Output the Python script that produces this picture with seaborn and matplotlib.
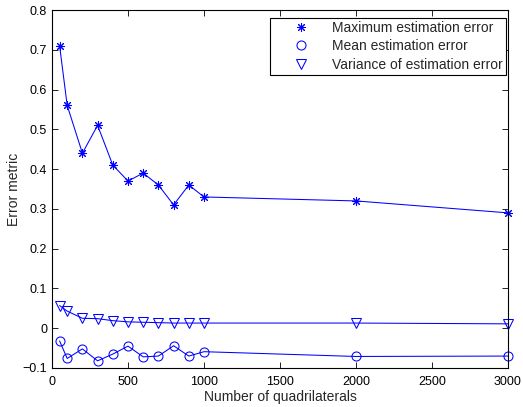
import matplotlib
matplotlib.use("Agg")
import matplotlib.pyplot as plt
from matplotlib.lines import Line2D
import seaborn as sns
import pandas as pd

# Number of quadrilaterals used in each experiment
n_quads = [50, 100, 200, 300, 400, 500, 600, 700, 800, 900, 1000, 2000, 3000]

# Error statistics for each experiment
max_err = [0.71, 0.56, 0.44, 0.51, 0.41, 0.37, 0.39, 0.36, 0.31, 0.36, 0.33, 0.32, 0.29]
mean_err = [-0.032, -0.076, -0.052, -0.082, -0.065, -0.045, -0.072, -0.070, -0.044,
            -0.070, -0.059, -0.071, -0.070]
var_err = [0.057, 0.043, 0.025, 0.024, 0.019, 0.016, 0.015, 0.014, 0.013, 0.013,
           0.013, 0.013, 0.011]

labels = ["Maximum estimation error", "Mean estimation error",
          "Variance of estimation error"]
x_ticks = [0, 500, 1000, 1500, 2000, 2500, 3000]
y_ticks = [-0.1, 0, 0.1, 0.2, 0.3, 0.4, 0.5, 0.6, 0.7, 0.8]
y_ticklabels = ["\u22120.1", "0", "0.1", "0.2", "0.3", "0.4", "0.5", "0.6", "0.7", "0.8"]

sns.set_style("white")
plt.rcParams["font.family"] = ["Liberation Sans", "DejaVu Sans"]

df = pd.DataFrame({"n": n_quads, "max": max_err, "mean": mean_err, "var": var_err})

fig = plt.figure(figsize=(5.23, 4.07), dpi=100)
ax = fig.add_axes([52 / 523, 1 - 368 / 407, 456 / 523, 358 / 407])

blue = (0, 0, 1)
series = [("max", (8, 2, 0), 6.5), ("mean", "o", 6.5), ("var", "v", 7)]
for col, marker, ms in series:
    sns.lineplot(data=df, x="n", y=col, ax=ax, color=blue, lw=0.75,
                 marker=marker, markersize=ms, markerfacecolor="none",
                 markeredgecolor=blue, markeredgewidth=0.75, clip_on=False,
                 legend=False)

ax.set_xlim(0, 3000)
ax.set_ylim(-0.1, 0.8)
ax.set_xticks(x_ticks)
ax.set_xticklabels([str(t) for t in x_ticks])
ax.set_yticks(y_ticks)
ax.set_yticklabels(y_ticklabels)
ax.tick_params(direction="in", length=4, width=0.6, labelsize=9,
               top=True, right=True, bottom=True, left=True, colors="black")
ax.tick_params(axis="x", pad=6)
ax.tick_params(axis="y", pad=3.5)
for s in ax.spines.values():
    s.set_color("black")
    s.set_linewidth(0.8)

ax.set_xlabel("Number of quadrilaterals", fontsize=10, labelpad=1)
ax.set_ylabel("Error metric", fontsize=10, labelpad=1)

handles = [Line2D([], [], linestyle="none", marker=m, markersize=ms,
                  markerfacecolor="none", markeredgecolor=blue, markeredgewidth=0.75)
           for _, m, ms in series]
leg = ax.legend(handles, labels, loc="upper right",
                bbox_to_anchor=((506 - 52) / 456, 1 - (17.7 - 10) / 358),
                fontsize=10, frameon=True, fancybox=False, edgecolor="black",
                framealpha=1, borderaxespad=0, handlelength=3.9,
                handletextpad=0.3, labelspacing=0.3, borderpad=0.25)
leg.get_frame().set_linewidth(0.8)

fig.savefig("out.png", dpi=100)
